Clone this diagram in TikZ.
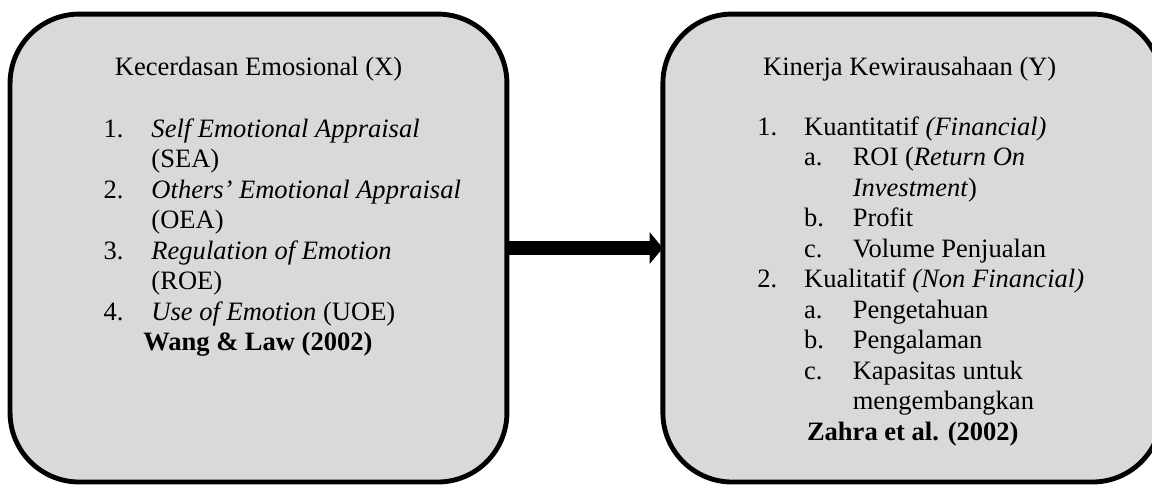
\documentclass[tikz,border=0pt]{standalone}
\usepackage{fontspec}
\setmainfont{Liberation Serif}
\usepackage{tikz}
\usetikzlibrary{arrows.meta,positioning,calc}

\begin{document}
\begin{tikzpicture}[
  box/.style={draw, line width=2.2pt, fill=black!15, rounded corners=1.1cm,
    outer sep=0pt, minimum width=7.9cm, minimum height=7.44cm},
  heading/.style={font=\fontsize{12}{13.8}\selectfont, inner sep=0pt, anchor=base},
  itemlist/.style={font=\fontsize{12}{13.8}\selectfont, inner sep=0pt, anchor=base west},
  arr/.style={-{Triangle[length=6pt, width=14pt]}, line width=6.3pt},
]
\useasboundingbox (0,0) rectangle (18.317,7.712);

% Boxes
\node[box] (xbox) at (4.11,3.768) {};
\node[box, minimum width=7.93cm, right=2.48cm of xbox] (ybox) {};

% Headings
\node[heading] (xhead) at ([yshift=-0.97cm]xbox.north) {Kecerdasan Emosional (X)};
\node[heading] (yhead) at ([xshift=-0.04cm, yshift=-0.97cm]ybox.north) {Kinerja Kewirausahaan (Y)};

% Indicator lists
\node[itemlist] (xlist) at ($(xbox.west |- xhead.base)+(1.479cm,-0.985cm)$) {%
  \begin{tabular}[t]{@{}p{21.7pt}@{}l@{}}
  1. & \textit{Self Emotional Appraisal}\\
     & (SEA)\\
  2. & \textit{Others’ Emotional Appraisal}\\
     & (OEA)\\
  3. & \textit{Regulation of Emotion}\\
     & (ROE)\\
  4. & \textit{Use of Emotion} (UOE)\\
  \multicolumn{2}{@{}l@{}}{\hspace{18pt}\textbf{Wang \& Law (2002)}}
  \end{tabular}};
\node[itemlist] (ylist) at ($(ybox.west |- yhead.base)+(1.494cm,-0.955cm)$) {%
  \begin{tabular}[t]{@{}p{21.2pt}@{}p{22pt}@{}l@{}}
  1. & \multicolumn{2}{@{}l@{}}{Kuantitatif \textit{(Financial)}}\\
     & a. & ROI (\textit{Return On}\\
     &    & \textit{Investment})\\
     & b. & Profit\\
     & c. & Volume Penjualan\\
  2. & \multicolumn{2}{@{}l@{}}{Kualitatif \textit{(Non Financial)}}\\
     & a. & Pengetahuan\\
     & b. & Pengalaman\\
     & c. & Kapasitas untuk\\
     &    & mengembangkan\\
  \multicolumn{3}{@{}l@{}}{\hspace{22.5pt}\textbf{Zahra et al. (2002)}}
  \end{tabular}};

% Arrow
\draw[arr] (xbox) -- (ybox);

\end{tikzpicture}
\end{document}
